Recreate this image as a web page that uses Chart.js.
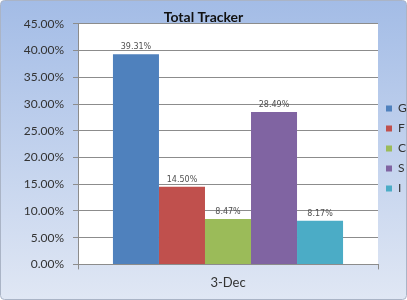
<!DOCTYPE html>
<html>
<head>
<meta charset="utf-8">
<script src="https://cdn.jsdelivr.net/npm/chart.js@4/dist/chart.umd.min.js"></script>
<style>
  html, body { margin: 0; padding: 0; background: #fff; }
  #wrap { width: 407px; height: 300px; position: relative; }
</style>
</head>
<body>
<div id="wrap"><canvas id="chart"></canvas></div>
<script>
const categories = ["3-Dec"];
const seriesNames = ["G", "F", "C", "S", "I"];
const seriesValues = [39.31, 14.50, 8.47, 28.49, 8.17];
const seriesColors = ["#4f81bd", "#c0504d", "#9bbb59", "#8064a2", "#4bacc6"];
const yTicks = [0, 5, 10, 15, 20, 25, 30, 35, 40, 45];

const backdrop = {
  id: "backdrop",
  beforeDraw(chart) {
    const { ctx, width, height, chartArea } = chart;
    ctx.save();
    const g = ctx.createLinearGradient(0, 0, 0, height);
    g.addColorStop(0, "#a3bce6");
    g.addColorStop(1, "#e0e7f4");
    ctx.fillStyle = g;
    ctx.beginPath();
    ctx.roundRect(0.5, 0.5, width - 1, height - 1, 4);
    ctx.fill();
    ctx.strokeStyle = "#aab4c6";
    ctx.lineWidth = 1;
    ctx.stroke();
    ctx.fillStyle = "#ffffff";
    ctx.fillRect(chartArea.left, chartArea.top, chartArea.right - chartArea.left, chartArea.bottom - chartArea.top);
    ctx.restore();
  },
};

const valueLabels = {
  id: "valueLabels",
  afterDatasetsDraw(chart) {
    const { ctx } = chart;
    ctx.save();
    ctx.font = "8px 'DejaVu Sans'";
    ctx.fillStyle = "#505050";
    ctx.textAlign = "center";
    ctx.textBaseline = "bottom";
    chart.data.datasets.forEach((ds, i) => {
      chart.getDatasetMeta(i).data.forEach((bar, j) => {
        ctx.fillText(ds.data[j].toFixed(2) + "%", bar.x, bar.y - 3);
      });
    });
    ctx.restore();
  },
};

new Chart(document.getElementById("chart"), {
  type: "bar",
  data: {
    labels: categories,
    datasets: seriesNames.map((name, i) => ({
      label: name,
      data: [seriesValues[i]],
      backgroundColor: seriesColors[i],
      barPercentage: 1,
      categoryPercentage: 0.767,
    })),
  },
  options: {
    responsive: true,
    maintainAspectRatio: false,
    animation: false,
    layout: { padding: { left: 0, right: 0, top: 0, bottom: 3 } },
    scales: {
      y: {
        min: 0,
        max: 45,
        afterBuildTicks: (axis) => { axis.ticks = yTicks.map((v) => ({ value: v })); },
        afterFit: (axis) => { axis.width = 78; },
        ticks: {
          callback: (v) => v.toFixed(2) + "%",
          color: "#333333",
          font: { family: "Lato", size: 12 },
          padding: 9,
        },
        grid: { color: "#8c8c8c", tickLength: 5 },
        border: { color: "#8c8c8c" },
      },
      x: {
        ticks: {
          color: "#333333",
          font: { family: "Lato", size: 13 },
          padding: 6,
        },
        grid: { drawOnChartArea: false, color: "#8c8c8c", tickLength: 5 },
        border: { color: "#8c8c8c" },
      },
    },
    plugins: {
      title: {
        display: true,
        text: "Total Tracker",
        color: "#111111",
        font: { family: "Lato", size: 14, weight: "bold" },
        padding: { top: 9, bottom: -2 },
      },
      legend: {
        position: "right",
        maxWidth: 29,
        labels: {
          boxWidth: 6,
          boxHeight: 6,
          padding: 8,
          color: "#333333",
          font: { family: "Lato", size: 12 },
        },
      },
      tooltip: { enabled: false },
    },
  },
  plugins: [backdrop, valueLabels],
});
</script>
</body>
</html>
